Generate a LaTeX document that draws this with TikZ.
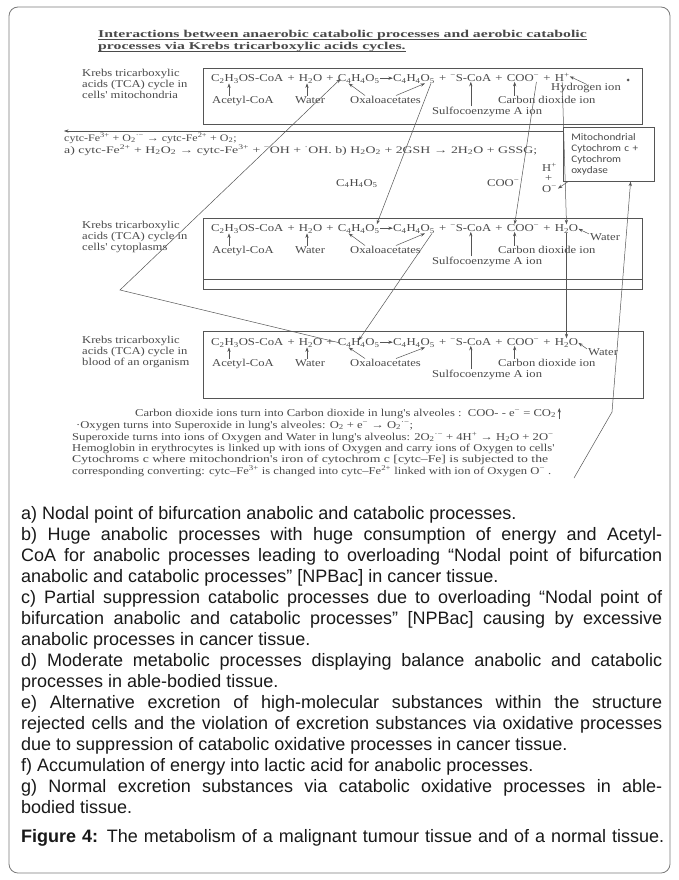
\documentclass[tikz,border=0pt]{standalone}
\usepackage{fontspec}
\usepackage{graphicx}
\setmainfont{Liberation Sans}
\newfontfamily\scan[FakeStretch=1.2]{Liberation Serif}
\newfontfamily\msans[FakeStretch=1.12]{Carlito}
\usetikzlibrary{arrows.meta,calc}
\definecolor{ink}{HTML}{4A4A4A}
\definecolor{lin}{HTML}{555555}
\definecolor{framec}{HTML}{7A7A7A}
\tikzset{
  eqt/.style={inner sep=0pt, anchor=base west, font=\scan\fontsize{10.6}{12}\selectfont, text=ink},
  lbl/.style={inner sep=0pt, anchor=base west, font=\scan\fontsize{10.5}{11}\selectfont, text=ink},
  rxn/.style={inner sep=0pt, anchor=base west, font=\scan\fontsize{10}{10.5}\selectfont, text=ink},
  ln/.style={draw=lin, line width=0.5pt},
  sarrow/.style={ln, -{Stealth[length=4.5pt,width=3.2pt]}},
  boxl/.style={draw=lin, line width=0.7pt},
  captxt/.style={inner sep=0pt, anchor=base west, font=\fontsize{18}{21}\selectfont, text=black!90},
  mitobox/.style={draw=lin, line width=0.6pt, anchor=north west, minimum width=91pt, minimum height=54pt,
    inner xsep=8pt, inner ysep=0pt, text width=75pt, align=left, font=\msans\fontsize{10}{10.8}\selectfont, text=ink}
}
\newcommand\pl{\kern0.36em+\kern0.36em}
\newcommand\eqrow[4]{%
 \node[eqt] (#1a) at (#2,#3) {C\textsubscript{2}H\textsubscript{3}OS-CoA};
 \node[eqt] (#1p1) at (#1a.base east) {\pl};
 \node[eqt] (#1w) at (#1p1.base east) {H\textsubscript{2}O};
 \node[eqt] (#1p2) at (#1w.base east) {\pl};
 \node[eqt] (#1x) at (#1p2.base east) {C\textsubscript{4}H\textsubscript{4}O\textsubscript{5}};
 \node[eqt] (#1r) at (#1x.base east) {\rule{1.2em}{0pt}};
 \node[eqt] (#1y) at (#1r.base east) {C\textsubscript{4}H\textsubscript{4}O\textsubscript{5}};
 \node[eqt] (#1p3) at (#1y.base east) {\pl};
 \node[eqt] (#1s) at (#1p3.base east) {\textsuperscript{−}S-CoA};
 \node[eqt] (#1p4) at (#1s.base east) {\pl};
 \node[eqt] (#1c) at (#1p4.base east) {COO\textsuperscript{−}};
 \node[eqt] (#1p5) at (#1c.base east) {\pl};
 \node[eqt] (#1h) at (#1p5.base east) {#4};
 \draw[sarrow] ([yshift=3.3pt]#1r.base west) -- ([yshift=3.3pt]#1r.base east);
}
% labels row and small arrows: #1 label prefix, #2 eq prefix, #3 row baseline, #4 sulfo baseline
\newcommand\labrow[4]{%
 \node[lbl] (#1ac) at (212,#3) {Acetyl-CoA};
 \node[lbl] (#1wa) at (295,#3) {Water};
 \node[lbl] (#1ox) at (350,#3) {Oxaloacetates};
 \node[lbl] (#1cd) at (498,#3) {Carbon dioxide ion};
 \node[lbl] (#1su) at (432,#4) {Sulfocoenzyme A ion};
 \coordinate (#1acA) at ([xshift=17pt]#1ac.north west);
 \draw[sarrow] (#1acA) -- (#1acA |- #2a.south);
 \coordinate (#1waA) at ([xshift=12pt]#1wa.north west);
 \draw[sarrow] (#1waA) -- (#1waA |- #2w.south);
 \draw[sarrow] ([xshift=15pt]#1ox.north west) -- ([xshift=11pt]#2x.south west);
 \draw[sarrow] ([xshift=46pt]#1ox.north west) -- ([xshift=-10pt]#2y.south east);
 \draw[sarrow] (#2s.south |- #1su.north) -- (#2s.south);
 \coordinate (#1cdA) at ([xshift=8pt]#2c.south west);
 \draw[sarrow] (#1cdA |- #1cd.north) -- (#1cdA);
}
\newcommand\capj[3]{\node[captxt] (#1) at (21,{519.5+21*(#2-1)}) {\makebox[641pt][s]{#3}};}
\newcommand\capn[3]{\node[captxt] (#1) at (21,{519.5+21*(#2-1)}) {#3};}
\begin{document}
\begin{tikzpicture}[x=1pt,y=-1pt]
\useasboundingbox (0,0) rectangle (678,880);
\fill[white] (0,0) rectangle (678,880);
\draw[framec, line width=0.8pt, rounded corners=9pt] (9,7) rectangle (670,873);

% title
\node[inner sep=0pt, anchor=base west, font=\scan\bfseries\fontsize{10.5}{12}\selectfont, text=ink] (t1) at (98,38)
  {\scalebox{1.25}[1]{Interactions between anaerobic catabolic processes and aerobic catabolic}};
\node[inner sep=0pt, anchor=base west, font=\scan\bfseries\fontsize{10.5}{12}\selectfont, text=ink] (t2) at (98,50)
  {\scalebox{1.25}[1]{processes via Krebs tricarboxylic acids cycles.}};
\draw[ink, line width=0.6pt] ([yshift=-1.6pt]t1.base west) -- ([yshift=-1.6pt]t1.base east);
\draw[ink, line width=0.6pt] ([yshift=-1.6pt]t2.base west) -- ([yshift=-1.6pt]t2.base east);

% left labels
\node[lbl] (k1a) at (82,76.5) {Krebs tricarboxylic};
\node[lbl] (k1b) at (82,87.5) {acids (TCA) cycle in};
\node[lbl] (k1c) at (82,98.5) {cells' mitochondria};
\node[lbl] (k2a) at (82,228.5) {Krebs tricarboxylic};
\node[lbl] (k2b) at (82,239.5) {acids (TCA) cycle in};
\node[lbl] (k2c) at (82,250.5) {cells' cytoplasms};
\node[lbl] (k3a) at (82,343.5) {Krebs tricarboxylic};
\node[lbl] (k3b) at (82,354.5) {acids (TCA) cycle in};
\node[lbl] (k3c) at (82,365.5) {blood of an organism};

% boxes
\draw[boxl] (203,68) rectangle (642,124);
\draw[boxl] (203,218) rectangle (642,289);
\draw[boxl] (203,279) -- (642,279);
\draw[boxl] (203,331) rectangle (643,398);

% equations
\eqrow{e1}{211}{81.5}{H\textsuperscript{+}}
\eqrow{e2}{211}{231.5}{H\textsubscript{2}O}
\eqrow{e3}{211}{345.5}{H\textsubscript{2}O}

\labrow{a}{e1}{103}{114}
\labrow{b}{e2}{253}{264}
\labrow{c}{e3}{366}{377}

% box1 hydrogen ion
\node[lbl] (hyd) at (551,91) {Hydrogen ion};
\draw[sarrow] ([xshift=36pt,yshift=-1pt]hyd.north west) -- ([yshift=1pt]e1h.east);
\fill[lin] (628,80) circle (1.5pt);
% right water labels
\node[lbl] (w2) at (590,240) {Water};
\draw[sarrow] ([xshift=-1pt,yshift=-1pt]w2.north west) -- (e2h.east);
\node[lbl] (w3) at (588,355) {Water};
\draw[sarrow] ([xshift=-1pt,yshift=-1pt]w3.north west) -- (e3h.east);

% mitochondrial box
\node[mitobox] (mito) at (563,127) {Mitochondrial\\Cytochrom c +\\Cytochrom\\oxydase};
\coordinate (hL) at (64,131);
\draw[sarrow] ([yshift=-4pt]mito.north west) -- (hL);

% reactions
\node[rxn] (r1) at (64,141.5) {cytc-Fe\textsuperscript{3+} + O\textsubscript{2}\textsuperscript{·−} → cytc-Fe\textsuperscript{2+} + O\textsubscript{2};};
\node[rxn] (r2) at (64,153) {\resizebox{473pt}{\height}{a) cytc-Fe\textsuperscript{2+} + H\textsubscript{2}O\textsubscript{2} → cytc-Fe\textsuperscript{3+} + \textsuperscript{−}OH + \textsuperscript{·}OH. b) H\textsubscript{2}O\textsubscript{2} + 2GSH → 2H\textsubscript{2}O + GSSG;}};

% middle labels
\node[lbl] (m1) at (336,186) {C\textsubscript{4}H\textsubscript{4}O\textsubscript{5}};
\node[lbl] (m2) at (487,186) {COO\textsuperscript{−}};
\node[lbl] (hp) at (542,171) {H\textsuperscript{+}};
\node[lbl] (plus) at (545,181) {+};
\node[lbl] (om) at (542,192) {O\textsuperscript{−}};
\draw[sarrow] ([xshift=5pt]mito.south west) -- ([xshift=1pt]om.east);

% long connectors
\coordinate (kA) at (120,290);
\draw[sarrow] ([xshift=2pt]e3x.west) -- (kA) -- ([xshift=3pt]e1x.west);
\draw[sarrow] ([xshift=-4pt]e1y.south east) -- ([xshift=-3pt]e2x.north east);
\draw[sarrow] ([xshift=-3pt]e2y.south east) -- ([yshift=-2pt]e3x.north);
\draw[sarrow] ([xshift=-3pt]e1c.south east) -- ([xshift=8pt]e2c.north west);
\draw[sarrow] (e1h.south) -- (e2h.north);
\draw[sarrow] (e2h.south) -- (e3h.north);

% lower text
\node[lbl] (b1) at (135,416) {Carbon dioxide ions turn into Carbon dioxide in lung's alveoles :\ \ COO- - e\textsuperscript{−} = CO\textsubscript{2}};
\draw[sarrow] ([xshift=3pt,yshift=-3pt]b1.base east) -- ([xshift=3pt,yshift=8pt]b1.base east);
\node[lbl] (b2) at (76,428) {·Oxygen turns into Superoxide in lung's alveoles: O\textsubscript{2} + e\textsuperscript{−} → O\textsubscript{2}\textsuperscript{·−};};
\node[lbl] (b3) at (72,440) {Superoxide turns into ions of Oxygen and Water in lung's alveolus: 2O\textsubscript{2}\textsuperscript{·−} + 4H\textsuperscript{+} → H\textsubscript{2}O + 2O\textsuperscript{−}};
\node[lbl] (b4) at (72,451) {Hemoglobin in erythrocytes is linked up with ions of Oxygen and carry ions of Oxygen to cells'};
\node[lbl] (b5) at (72,462) {\resizebox{476pt}{\height}{Cytochroms c where mitochondrion's iron of cytochrom c [cytc–Fe] is subjected to the}};
\node[lbl] (b6) at (72,474) {corresponding converting: cytc–Fe\textsuperscript{3+} is changed into cytc–Fe\textsuperscript{2+} linked with ion of Oxygen O\textsuperscript{−} .};
\coordinate (g1) at (574,478);
\coordinate (g2) at (612,412);
\draw[sarrow] (g1) -- (g2) -- ([xshift=-24pt]mito.south east);

% caption
\capn{c1}{1}{a) Nodal point of bifurcation anabolic and catabolic processes.}
\capj{c2}{2}{b) Huge anabolic processes with huge consumption of energy and Acetyl-}
\capj{c3}{3}{CoA for anabolic processes leading to overloading “Nodal point of bifurcation}
\capn{c4}{4}{anabolic and catabolic processes” [NPBac] in cancer tissue.}
\capj{c5}{5}{c) Partial suppression catabolic processes due to overloading “Nodal point of}
\capj{c6}{6}{bifurcation anabolic and catabolic processes” [NPBac] causing by excessive}
\capn{c7}{7}{anabolic processes in cancer tissue.}
\capj{c8}{8}{d) Moderate metabolic processes displaying balance anabolic and catabolic}
\capn{c9}{9}{processes in able-bodied tissue.}
\capj{c10}{10}{e) Alternative excretion of high-molecular substances within the structure}
\capj{c11}{11}{rejected cells and the violation of excretion substances via oxidative processes}
\capn{c12}{12}{due to suppression of catabolic oxidative processes in cancer tissue.}
\capn{c13}{13}{f) Accumulation of energy into lactic acid for anabolic processes.}
\capj{c14}{14}{g) Normal excretion substances via catabolic oxidative processes in able-}
\capn{c15}{15}{bodied tissue.}
\node[captxt] (fig) at (21,842.5) {\makebox[643pt][s]{\textbf{Figure 4:} The metabolism of a malignant tumour tissue and of a normal tissue.}};
\end{tikzpicture}
\end{document}
